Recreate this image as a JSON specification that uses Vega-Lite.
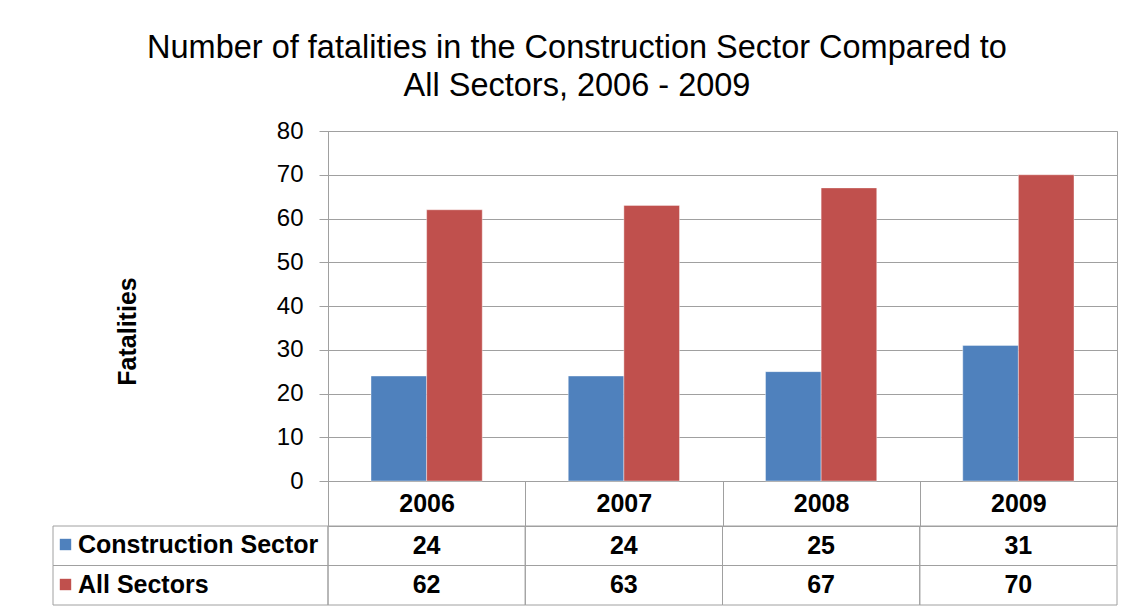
{
  "$schema": "https://vega.github.io/schema/vega-lite/v6.json",
  "background": "white",
  "padding": {"left": 52, "top": 32, "right": 19, "bottom": 4},
  "title": {
    "text": ["Number of fatalities in the Construction Sector Compared to", "All Sectors, 2006 - 2009"],
    "fontSize": 32.5,
    "font": "Liberation Sans",
    "fontWeight": "normal",
    "color": "black",
    "anchor": "middle",
    "lineHeight": 38,
    "offset": 16,
    "dx": -8
  },
  "datasets": {
    "fat": [
      {"year": "2006", "series": "Construction Sector", "value": 24},
      {"year": "2007", "series": "Construction Sector", "value": 24},
      {"year": "2008", "series": "Construction Sector", "value": 25},
      {"year": "2009", "series": "Construction Sector", "value": 31},
      {"year": "2006", "series": "All Sectors", "value": 62},
      {"year": "2007", "series": "All Sectors", "value": 63},
      {"year": "2008", "series": "All Sectors", "value": 67},
      {"year": "2009", "series": "All Sectors", "value": 70}
    ]
  },
  "columns": 2,
  "spacing": {"row": 45, "column": 0},
  "bounds": "flush",
  "concat": [
    {
      "width": 275,
      "height": 350,
      "data": {"values": []},
      "mark": "text",
      "encoding": {}
    },
    {
      "width": 789,
      "height": 350,
      "data": {"name": "fat"},
      "view": {"stroke": "#A0A0A0"},
      "mark": {"type": "bar", "stroke": "white", "strokeOpacity": 0.4, "strokeWidth": 1},
      "encoding": {
        "x": {
          "field": "year",
          "type": "nominal",
          "scale": {"paddingInner": 0.436, "paddingOuter": 0.218},
          "axis": null
        },
        "xOffset": {"field": "series", "sort": ["Construction Sector", "All Sectors"]},
        "y": {
          "field": "value",
          "type": "quantitative",
          "scale": {"domain": [0, 80]},
          "axis": {
            "values": [0, 10, 20, 30, 40, 50, 60, 70, 80],
            "title": "Fatalities",
            "titleFont": "Liberation Sans",
            "titleFontSize": 25,
            "titleFontWeight": "bold",
            "titleColor": "black",
            "titleX": -188,
            "titleY": 200,
            "labelFont": "Liberation Sans",
            "labelFontSize": 24,
            "labelColor": "black",
            "labelPadding": 16,
            "tickSize": 9,
            "tickColor": "#A0A0A0",
            "domainColor": "#A0A0A0",
            "gridColor": "#A0A0A0"
          }
        },
        "color": {
          "field": "series",
          "type": "nominal",
          "scale": {"domain": ["Construction Sector", "All Sectors"], "range": ["#4F81BD", "#C0504D"]},
          "legend": {
            "title": null,
            "orient": "none",
            "legendX": 0,
            "legendY": 401,
            "padding": 0,
            "labelFont": "Liberation Sans",
            "labelFontSize": 25,
            "labelFontWeight": "bold",
            "labelColor": "black",
            "labelLimit": 0,
            "symbolType": "square",
            "symbolSize": 130,
            "symbolStrokeWidth": 0,
            "rowPadding": 14,
            "labelOffset": 0
          }
        }
      }
    },
    {
      "width": 275,
      "height": 79,
      "data": {"name": "fat"},
      "transform": [{"aggregate": [{"op": "count", "as": "n"}], "groupby": ["series"]}],
      "mark": {"type": "rect", "filled": false, "stroke": "#A0A0A0", "strokeWidth": 1},
      "encoding": {
        "y": {
          "field": "series",
          "type": "nominal",
          "sort": ["Construction Sector", "All Sectors"],
          "scale": {"paddingInner": 0, "paddingOuter": 0},
          "axis": null
        }
      }
    },
    {
      "width": 789,
      "height": 79,
      "data": {"name": "fat"},
      "encoding": {
        "x": {
          "field": "year",
          "type": "nominal",
          "scale": {"paddingInner": 0, "paddingOuter": 0},
          "axis": {
            "orient": "top",
            "title": null,
            "labelAngle": 0,
            "labelFont": "Liberation Sans",
            "labelFontSize": 25,
            "labelFontWeight": "bold",
            "labelColor": "black",
            "labelBaseline": "middle",
            "labelPadding": -22,
            "tickBand": "extent",
            "tickSize": 45,
            "tickColor": "#A0A0A0",
            "domainColor": "#A0A0A0",
            "grid": false
          }
        },
        "y": {
          "field": "series",
          "type": "nominal",
          "sort": ["Construction Sector", "All Sectors"],
          "scale": {"paddingInner": 0, "paddingOuter": 0},
          "axis": null
        }
      },
      "layer": [
        {"mark": {"type": "rect", "filled": false, "stroke": "#A0A0A0", "strokeWidth": 1}},
        {
          "mark": {"type": "text", "font": "Liberation Sans", "fontSize": 25, "fontWeight": "bold", "color": "black"},
          "encoding": {"text": {"field": "value", "type": "quantitative"}}
        }
      ]
    }
  ],
  "config": {"view": {"stroke": null}, "font": "Liberation Sans"}
}
